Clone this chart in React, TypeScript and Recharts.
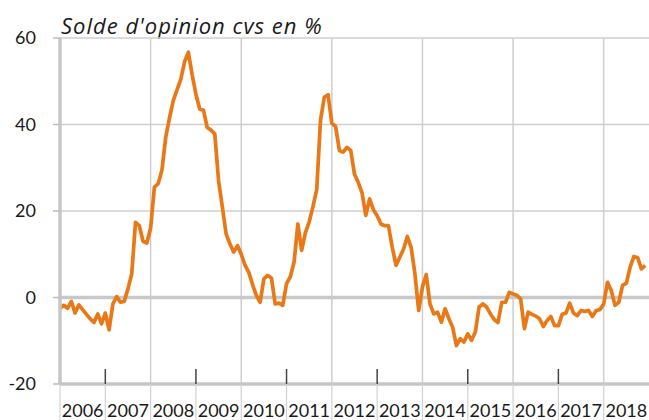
import { LineChart, Line, XAxis, YAxis, CartesianGrid, ReferenceLine } from 'recharts';

// mois depuis janvier 2006, solde d'opinion cvs en %
const premiereAnnee = 2006;
const solde = [
  -2.5, -1.8, -2.5, -0.9, -3.6, -1.7, -2.8, -3.9, -4.9, -5.8, -3.8, -6.1, // 2006
  -3.6, -7.5, -1.5, 0.2, -1.1, -0.9, 2.0, 5.5, 17.4, 16.6, 13.0, 12.6, // 2007
  16.0, 25.5, 26.3, 29.5, 37.0, 41.5, 45.5, 48.0, 50.5, 54.5, 56.7, 51.5, // 2008
  47.0, 43.6, 43.3, 39.3, 38.7, 37.8, 27.0, 20.9, 14.7, 12.4, 10.5, 12.0, // 2009
  10.0, 7.5, 5.8, 3.0, 0.5, -1.1, 4.3, 5.1, 4.5, -1.5, -1.3, -1.8, // 2010
  3.2, 4.8, 8.2, 17.0, 10.9, 15.0, 17.5, 21.0, 25.0, 41.0, 46.3, 46.9, // 2011
  40.3, 39.5, 34.0, 33.6, 34.7, 34.0, 28.5, 26.6, 24.2, 19.0, 22.8, 20.3, // 2012
  18.9, 17.0, 16.6, 16.6, 11.6, 7.4, 9.3, 11.2, 14.1, 11.6, 5.5, -3.0, // 2013
  2.4, 5.3, -1.5, -3.8, -3.4, -5.7, -2.6, -4.9, -6.9, -11.1, -9.5, -10.3, // 2014
  -8.4, -9.9, -8.0, -2.2, -1.5, -2.2, -3.8, -5.1, -5.8, -1.1, -1.1, 1.2, // 2015
  0.8, 0.5, -0.3, -7.2, -3.4, -3.9, -4.3, -4.9, -6.7, -5.3, -4.4, -6.5, // 2016
  -6.5, -3.9, -3.6, -1.3, -3.6, -4.2, -3.0, -3.2, -3.0, -4.4, -3.0, -2.8, // 2017
  -1.5, 3.5, 1.6, -1.8, -1.1, 2.8, 3.3, 7.0, 9.5, 9.2, 6.6, 7.4, // 2018
];
const annees = [2006, 2007, 2008, 2009, 2010, 2011, 2012, 2013, 2014, 2015, 2016, 2017, 2018];
const yTicks = [-20, 0, 20, 40, 60];

const data = solde.map((v, i) => ({ m: i, v }));
const debutsAnnee = annees.map((a) => (a - premiereAnnee) * 12);
const grilleVerticale = debutsAnnee.filter((m, i) => i > 0 && i % 2 === 0);
const finMois = annees.length * 12;

const W = 649;
const H = 420;
const LEFT = 8;
const Y_AXIS_W = 52;
const PLOT_W = W - LEFT - Y_AXIS_W;
const demiAnnee = (PLOT_W / finMois) * 6;
const font = 'Lato, "Noto Sans", sans-serif';

function YearTick(props: any) {
  const { x, y, payload } = props;
  const annee = premiereAnnee + Math.round(payload.value / 12);
  const impaire = (annee - premiereAnnee) % 2 === 1;
  return (
    <g>
      <line x1={x} x2={x} y1={y} y2={y + 40} stroke="#d2d2d2" strokeWidth={1.2} />
      {impaire && <line x1={x} x2={x} y1={y - 15} y2={y} stroke="#444" strokeWidth={1.5} />}
      <text x={x + demiAnnee} y={y + 33} textAnchor="middle" fontSize={18} fontFamily={font} fill="#1a1a1a">
        {annee}
      </text>
    </g>
  );
}

export default function App() {
  return (
    <div style={{ position: 'relative', width: W, height: H }}>
      <style>{'html,body{margin:0;padding:0;overflow:hidden}'}</style>
      <div
        style={{
          position: 'absolute',
          left: 61,
          top: 14,
          fontFamily: '"Open Sans", Lato, sans-serif',
          fontStyle: 'italic',
          fontSize: 22,
          letterSpacing: 1,
          lineHeight: 1,
          color: '#1a1a1a',
          whiteSpace: 'nowrap',
        }}
      >
        Solde d'opinion cvs en %
      </div>
      <LineChart width={W} height={H} data={data} margin={{ top: 38, right: 0, bottom: 0, left: LEFT }}>
        <CartesianGrid vertical={false} stroke="#cfcfcf" strokeWidth={1.5} />
        {grilleVerticale.map((m) => (
          <ReferenceLine key={m} x={m} stroke="#cfcfcf" strokeWidth={1.5} />
        ))}
        <ReferenceLine y={0} stroke="#c8c8c8" strokeWidth={3.5} />
        <XAxis
          dataKey="m"
          type="number"
          domain={[0, finMois]}
          ticks={debutsAnnee}
          interval={0}
          height={36}
          tickLine={false}
          tickSize={0}
          tickMargin={0}
          axisLine={{ stroke: '#c6c6c6', strokeWidth: 3.5 }}
          tick={<YearTick />}
        />
        <YAxis
          type="number"
          domain={[-20, 60]}
          ticks={yTicks}
          width={Y_AXIS_W}
          tickSize={7}
          tickMargin={17}
          tickLine={{ stroke: '#bdbdbd', strokeWidth: 1.5 }}
          axisLine={{ stroke: '#c6c6c6', strokeWidth: 3.5 }}
          tick={{ fill: '#1a1a1a', fontSize: 18, fontFamily: font }}
        />
        <Line
          type="linear"
          dataKey="v"
          stroke="#e97817"
          strokeWidth={3.7}
          dot={false}
          strokeLinejoin="round"
          isAnimationActive={false}
        />
      </LineChart>
    </div>
  );
}
